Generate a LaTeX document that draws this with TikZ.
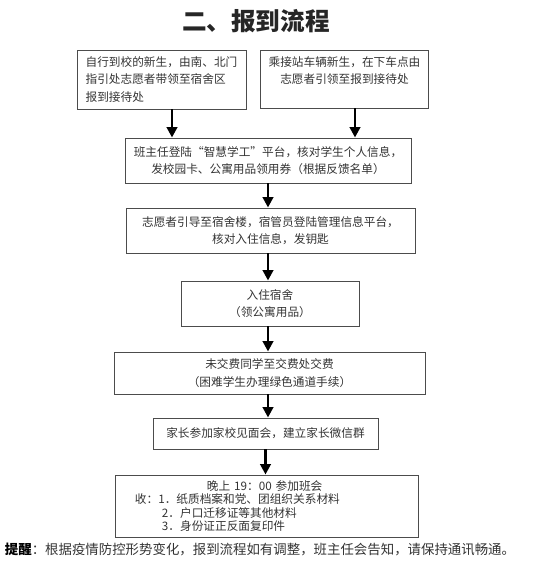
\documentclass[tikz,border=0pt]{standalone}
\usepackage{fontspec}
\setmainfont{Noto Sans CJK SC}
\usepackage{tikz}
\usetikzlibrary{arrows.meta}
\definecolor{edgegray}{gray}{0.3}
\definecolor{inkgray}{gray}{0.2}
\tikzset{
  stage/.style={draw=edgegray, line width=0.7pt, text=inkgray, align=center, inner xsep=2mm, inner ysep=1mm, font=\fontsize{8.3pt}{12.5pt}\selectfont},
  flow/.style={line width=2pt, -{Triangle[length=2.6mm,width=2.6mm]}}
}
\begin{document}
\begin{tikzpicture}[x=0.25mm,y=-0.25mm]
            \useasboundingbox (0,0) rectangle (550,579);
            \node[font=\fontsize{17.5pt}{20pt}\selectfont\bfseries, text=black!85] (title) at (256,21) {二、报到流程};
            \node[stage, align=left, minimum width=42.25mm, minimum height=14.75mm] (box1) at (161.5,79.5) {自行到校的新生，由南、北门\\指引处志愿者带领至宿舍区\\报到接待处};
            \node[stage, minimum width=41.75mm, minimum height=14.5mm] (box2) at (344.5,79) {乘接站车辆新生，在下车点由\\志愿者引领至报到接待处\\\mbox{}};
            \node[stage, minimum width=71.5mm, minimum height=11.25mm] (box3) at (268,160.5) {班主任登陆“智慧学工”平台，核对学生个人信息，\\发校园卡、公寓用品领用券（根据反馈名单）};
            \node[stage, minimum width=72.25mm, minimum height=11.25mm] (box4) at (270.5,230.5) {志愿者引导至宿舍楼，宿管员登陆管理信息平台，\\核对入住信息，发钥匙};
            \node[stage, minimum width=44.5mm, minimum height=11.25mm] (box5) at (270,303.5) {入住宿舍\\（领公寓用品）};
            \node[stage, minimum width=77.75mm, minimum height=10.5mm] (box6) at (269.5,373) {未交费同学至交费处交费\\（困难学生办理绿色通道手续）};
            \node[stage, minimum width=56.25mm, minimum height=7.75mm] (box7) at (265.5,433.5) {家长参加家校见面会，建立家长微信群};
            \node[stage, align=left, text width=65.75mm, minimum width=75.75mm, minimum height=15.5mm, font=\fontsize{8.3pt}{9.6pt}\selectfont] (box8) at (266.5,506) {\hspace*{18mm}晚上 19：00 参加班会\\收：1．纸质档案和党、团组织关系材料\\\hspace*{6.75mm}2．户口迁移证等其他材料\\\hspace*{6.75mm}3．身份证正反面复印件};
            \node[font=\fontsize{9.55pt}{11pt}\selectfont, text=inkgray] (note) at (260,549) {\textcolor{black}{\textbf{提醒}}：根据疫情防控形势变化，报到流程如有调整，班主任会告知，请保持通讯畅通。};
            \coordinate (left) at (172,0);
            \coordinate (right) at (355,0);
            \draw[flow] (box1.south -| left) -- (box3.north -| left);
            \draw[flow] (box2.south -| right) -- (box3.north -| right);
            \draw[flow] (box3.south) -- (box3.south |- box4.north);
            \draw[flow] (box4.south -| box3.south) -- (box5.north -| box3.south);
            \draw[flow] (box5.south -| box3.south) -- (box6.north -| box3.south);
            \draw[flow] (box6.south -| box3.south) -- (box7.north -| box3.south);
            \draw[flow] (box7.south) -- (box7.south |- box8.north);
        \end{tikzpicture}
\end{document}
